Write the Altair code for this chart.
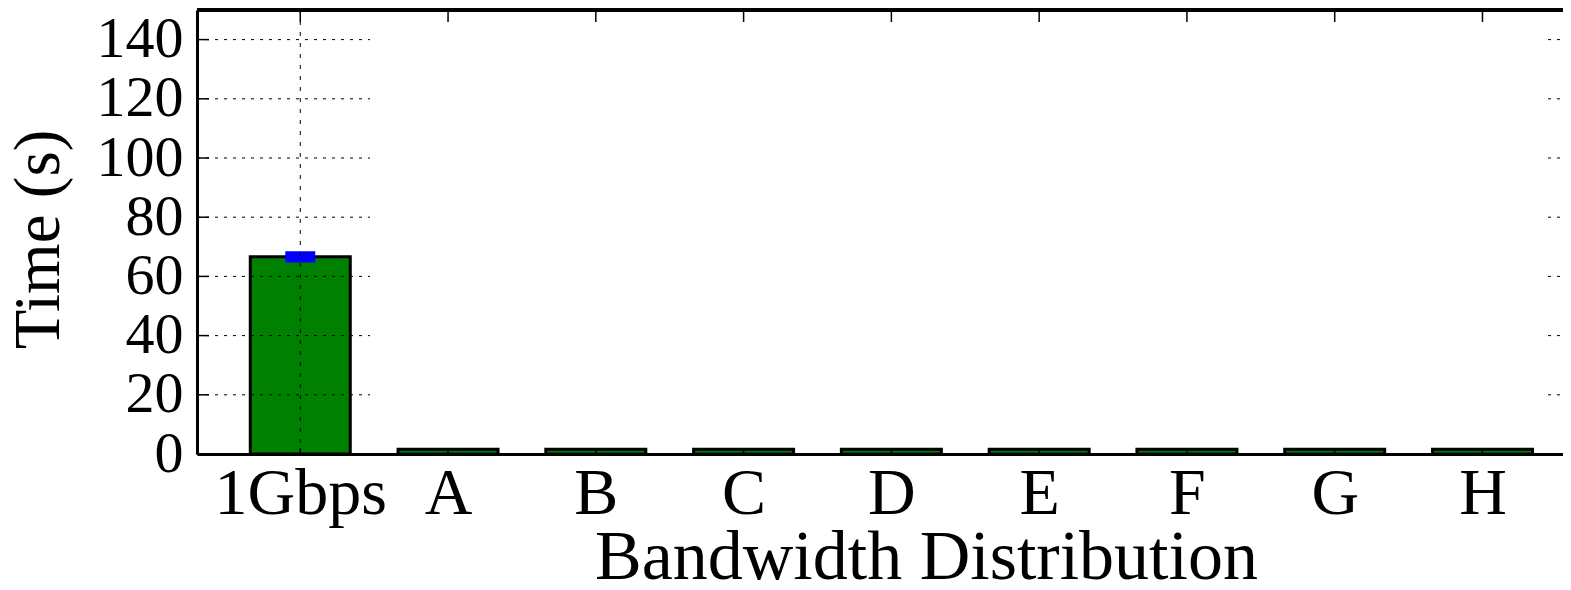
import json
import altair as alt
import pandas as pd

# ---- data ----
categories = ["1Gbps", "A", "B", "C", "D", "E", "F", "G", "H"]
positions = [0, 1, 2, 3, 4, 5, 6, 7, 8]
times = [66.6, 1.6, 1.6, 1.6, 1.6, 1.6, 1.6, 1.6, 1.6]
errors = [1.9, 0, 0, 0, 0, 0, 0, 0, 0]
y_ticks = [0, 20, 40, 60, 80, 100, 120, 140]
grid_vals = [20, 40, 60, 80, 100, 120, 140]
vgrid_positions = [0]

FONT = "Liberation Serif"
W, H = 1366, 444

df = pd.DataFrame({"pos": positions, "cat": categories, "time": times, "err": errors})
grid_df = pd.DataFrame({"time": grid_vals})
tick_df = pd.DataFrame({"time": y_ticks})
pos_df = pd.DataFrame({"pos": positions})
vgrid_df = pd.DataFrame({"pos": vgrid_positions})

xs = alt.Scale(domain=[-0.665, 8.511], nice=False, zero=False)
ys = alt.Scale(domain=[0, 150], nice=False)

label_expr = json.dumps(categories) + "[datum.value]"

x_axis = alt.Axis(
    values=positions, labelExpr=label_expr, ticks=False, tickSize=0, grid=False,
    domainColor="black", domainWidth=3,
    labelFont=FONT, labelFontSize=66, labelColor="black", labelPadding=7,
    labelBaseline="top", labelAlign="center",
    title="Bandwidth Distribution", titleFont=FONT, titleFontSize=70,
    titleFontWeight="normal", titleColor="black", titleX=729, titleY=124,
    titleBaseline="alphabetic", titleAlign="center")
y_axis = alt.Axis(
    values=y_ticks, ticks=False, tickSize=0, grid=False,
    domainColor="black", domainWidth=3,
    labelFont=FONT, labelFontSize=58, labelColor="black", labelPadding=14,
    labelBaseline="middle",
    title="Time (s)", titleFont=FONT, titleFontSize=65, titleFontWeight="normal",
    titleColor="black", titleAngle=270, titleX=-139, titleY=229,
    titleBaseline="alphabetic", titleAlign="center")

X = alt.X("pos:Q", scale=xs, axis=x_axis)
Y = alt.Y("time:Q", scale=ys, axis=y_axis)

bars = alt.Chart(df).mark_bar(size=100, color="#008000", stroke="black", strokeWidth=3).encode(
    x=X, y=Y,
)

errbar = alt.Chart(df).transform_filter("datum.err > 0").transform_calculate(
    lo="datum.time - datum.err", hi="datum.time + datum.err"
).mark_bar(size=30, color="#0000ff").encode(
    x=X,
    y=alt.Y("lo:Q", scale=ys, axis=y_axis),
    y2="hi:Q",
)

hgrid_left = alt.Chart(grid_df).mark_rule(color="black", strokeWidth=1, strokeDash=[3, 6]).encode(
    y=Y, x=alt.value(0), x2=alt.value(173)
)
hgrid_right = alt.Chart(grid_df).mark_rule(color="black", strokeWidth=1, strokeDash=[3, 6]).encode(
    y=Y, x=alt.value(1351), x2=alt.value(W)
)
vgrid = alt.Chart(vgrid_df).mark_rule(color="black", strokeWidth=1, strokeDash=[4, 7]).encode(
    x=X, y=alt.value(0), y2=alt.value(H)
)
top_ticks = alt.Chart(pos_df).mark_rule(color="black", strokeWidth=1.5).encode(
    x=X, y=alt.value(0), y2=alt.value(12)
)
bottom_ticks = alt.Chart(pos_df).mark_rule(color="black", strokeWidth=1.5).encode(
    x=X, y=alt.value(H), y2=alt.value(H - 6)
)
left_ticks = alt.Chart(tick_df).mark_rule(color="black", strokeWidth=1.5).encode(
    y=Y, x=alt.value(0), x2=alt.value(12)
)
top_border = alt.Chart(pos_df).mark_rule(color="black", strokeWidth=3).encode(
    x=alt.value(0), x2=alt.value(W), y=alt.value(0)
)

chart = alt.layer(
    bars, errbar, hgrid_left, hgrid_right, vgrid, top_ticks, bottom_ticks, left_ticks, top_border
).properties(
    width=W, height=H,
    autosize=alt.AutoSizeParams(type="none"),
    padding={"left": 189, "top": 2, "right": 0, "bottom": 128},
).configure_view(stroke=None).configure(background="white")

chart.save("out.html", embed_options={"renderer": "svg", "actions": False})
